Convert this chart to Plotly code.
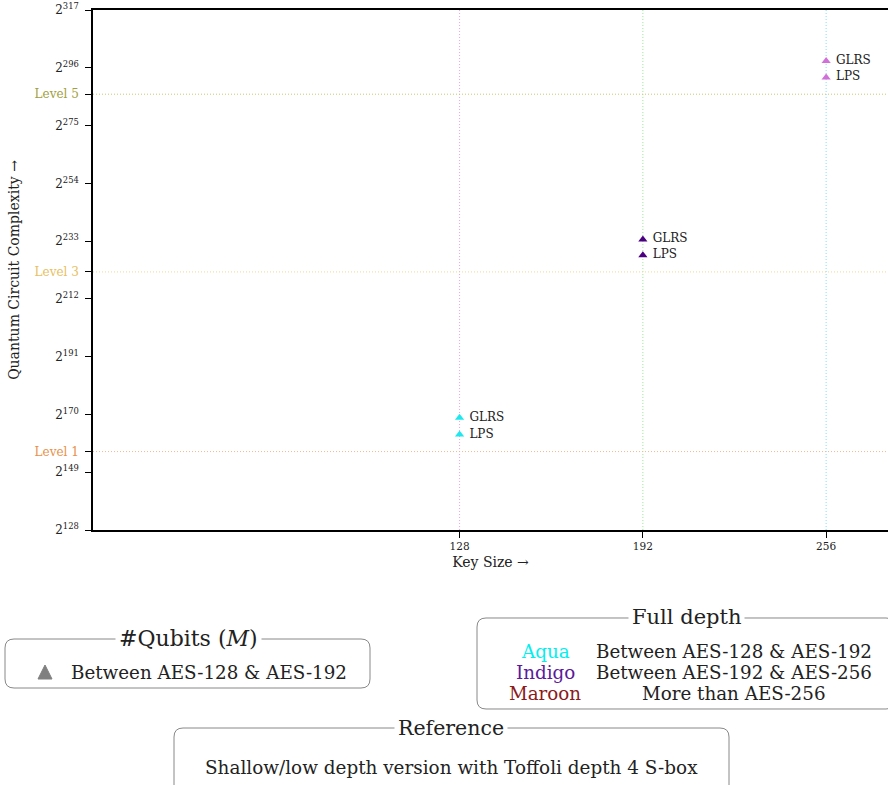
import plotly.graph_objects as go

# ---- data ----
key_sizes = [128, 192, 256]
glrs_exp = [168.8, 233.6, 298.5]
lps_exp = [162.7, 227.9, 292.5]
point_colors = ["#1ee8ee", "#4b0082", "#d070d8"]
vline_colors = ["#f0a0f0", "#90f090", "#80e0f8"]

level_names = ["Level 1", "Level 3", "Level 5"]
level_exp = [156.5, 221.8, 286.4]
level_colors = ["#e8904a", "#e8c060", "#a0a040"]
level_line_colors = ["#f0b890", "#f0d890", "#c8c870"]

pow_ticks = [128, 149, 170, 191, 212, 233, 254, 275, 296, 317]

# ---- layout geometry (screen pixels) ----
W, H = 888, 785
L, R, T, B = 93, 888, 10, 530   # plot area on screen
FONT = "DejaVu Serif"


def pp(x, y):
    return ((x - L) / (R - L), (B - y) / (B - T))


def rounded_box(x0, y0, x1, y1, r=9):
    def P(x, y):
        a, b = pp(x, y)
        return f"{a:.5f},{b:.5f}"
    path = (f"M {P(x0 + r, y0)} L {P(x1 - r, y0)} Q {P(x1, y0)} {P(x1, y0 + r)} "
            f"L {P(x1, y1 - r)} Q {P(x1, y1)} {P(x1 - r, y1)} "
            f"L {P(x0 + r, y1)} Q {P(x0, y1)} {P(x0, y1 - r)} "
            f"L {P(x0, y0 + r)} Q {P(x0, y0)} {P(x0 + r, y0)} Z")
    return dict(type="path", xref="paper", yref="paper", path=path,
                line=dict(color="#888888", width=1), layer="above")


fig = go.Figure()

for i, k in enumerate(key_sizes):
    fig.add_trace(go.Scatter(
        x=[k, k], y=[glrs_exp[i], lps_exp[i]], mode="markers+text",
        text=[" GLRS", " LPS"], textposition="middle right",
        textfont=dict(family=FONT, size=12, color="#222"),
        marker=dict(symbol="triangle-up", size=8, color=point_colors[i]),
        showlegend=False, cliponaxis=False))

shapes = []
for k, c in zip(key_sizes, vline_colors):
    shapes.append(dict(type="line", xref="x", yref="paper", x0=k, x1=k, y0=0, y1=1,
                       line=dict(color=c, width=1, dash="1px,2px"), layer="below"))
for v, c in zip(level_exp, level_line_colors):
    shapes.append(dict(type="line", xref="paper", yref="y", x0=0, x1=1, y0=v, y1=v,
                       line=dict(color=c, width=1, dash="1px,2px"), layer="below"))

# legend boxes
shapes.append(rounded_box(5, 639, 370, 688))
shapes.append(rounded_box(477, 618, 895, 709))
shapes.append(rounded_box(174, 728, 729, 795))
# gray triangle in legend 1
a = pp(38, 679); b = pp(52, 679); c = pp(45, 665)
shapes.append(dict(type="path", xref="paper", yref="paper",
                   path=f"M {a[0]},{a[1]} L {b[0]},{b[1]} L {c[0]},{c[1]} Z",
                   fillcolor="#808080", line=dict(color="#808080", width=1)))

ann = []


def text(x, y, s, size=15, color="#222", xanchor="center", bg=None):
    px, py = pp(x, y)
    d = dict(x=px, y=py, xref="paper", yref="paper", text=s, showarrow=False,
             xanchor=xanchor, yanchor="middle",
             font=dict(family=FONT, size=size, color=color))
    if bg:
        d.update(bgcolor=bg, borderpad=3)
    ann.append(d)


TXT = 18.3
text(188, 638, "#Qubits (<i>M</i>)", size=22, bg="white")
text(69, 672, "Between AES-128 &amp; AES-192", size=TXT, xanchor="left")

text(686, 617, "Full depth", size=21, bg="white")
legend_names = ["Aqua", "Indigo", "Maroon"]
legend_name_colors = ["#00f0f0", "#5a1a9a", "#8b1a1a"]
legend_desc = ["Between AES-128 &amp; AES-192", "Between AES-192 &amp; AES-256", "More than AES-256"]
for j in range(3):
    text(545, 651 + 21 * j, legend_names[j], size=TXT, color=legend_name_colors[j])
    text(734, 651 + 21 * j, legend_desc[j], size=TXT)

text(451, 728, "Reference", size=20.5, bg="white")
text(451, 767, "Shallow/low depth version with Toffoli depth 4 S-box", size=18.4)

# y tick labels
yvals = pow_ticks + level_exp
ytext = [f"2<sup>{p}</sup>" for p in pow_ticks] + [
    f'<span style="color:{c}">{n}</span>' for n, c in zip(level_names, level_colors)]

fig.update_layout(
    width=W, height=H,
    margin=dict(l=L, r=W - R, t=T, b=H - B, autoexpand=False),
    plot_bgcolor="white", paper_bgcolor="white",
    shapes=shapes, annotations=ann,
    xaxis=dict(range=[0, 277.6], tickvals=key_sizes, ticktext=[str(k) for k in key_sizes],
               ticks="outside", ticklen=6, tickcolor="black", showline=True, linecolor="black",
               linewidth=1.5, mirror=True, showgrid=False, zeroline=False, automargin=False,
               tickfont=dict(family=FONT, size=10.5, color="#222"),
               title=dict(text="Key Size →", font=dict(family=FONT, size=14, color="#222"), standoff=6)),
    yaxis=dict(range=[128, 317], tickvals=yvals, ticktext=ytext,
               ticks="outside", ticklen=6, tickcolor="black", showline=True, linecolor="black",
               linewidth=1.5, showgrid=False, zeroline=False, ticklabelstandoff=4,
               ticklabeloverflow="allow", automargin=False,
               tickfont=dict(family=FONT, size=12, color="#222"),
               title=dict(text="Quantum Circuit Complexity →",
                          font=dict(family=FONT, size=14, color="#222"), standoff=12)),
)

fig.write_html("out.html", config={"displayModeBar": False},
               post_script="document.body.style.margin='0';document.body.style.overflow='hidden';")
